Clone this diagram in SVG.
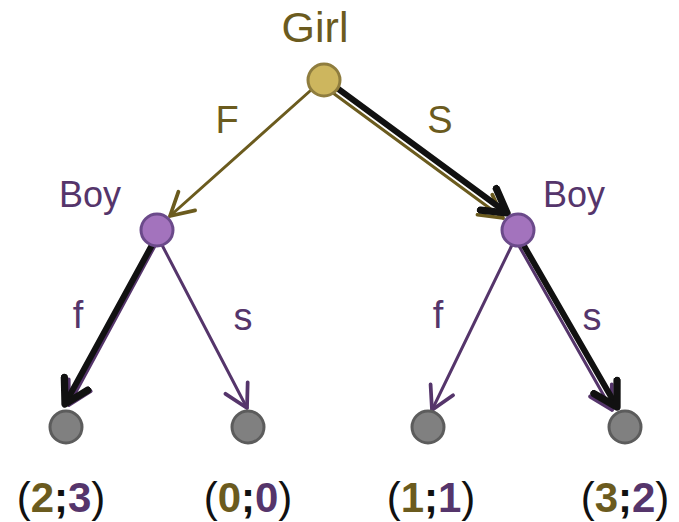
<svg xmlns="http://www.w3.org/2000/svg" width="679" height="522" viewBox="0 0 679 522">
<style>
.t{font-family:"Liberation Sans","DejaVu Sans",sans-serif;}
.lbl{font-size:38px;}
.nm{font-size:36px;}
.ol{fill:#6b5b1e;}
.pu{fill:#55356b;}
.pay{font-size:42px;fill:#111;}
.d{font-weight:bold;}
.eo{stroke:#6b5b1e;stroke-width:3;fill:none;stroke-linecap:round;}
.ep{stroke:#55356b;stroke-width:3;fill:none;stroke-linecap:round;}
.eb{stroke:#111;stroke-width:6;fill:none;stroke-linecap:round;}
.girl{fill:#cdb65e;stroke:#8f7d3e;stroke-width:3;}
.boy{fill:#a373bd;stroke:#6b4a8a;stroke-width:3;}
.leaf{fill:#808080;stroke:#5c5c5c;stroke-width:3;}
</style>
<defs>
<marker id="ao" markerUnits="userSpaceOnUse" markerWidth="30" markerHeight="30" refX="20" refY="12" orient="auto" viewBox="0 0 24 24"><polyline points="2,2 20,12 2,22" fill="none" stroke="#6b5b1e" stroke-width="3" stroke-linecap="round" stroke-linejoin="round"/></marker>
<marker id="ap" markerUnits="userSpaceOnUse" markerWidth="30" markerHeight="30" refX="20" refY="12" orient="auto" viewBox="0 0 24 24"><polyline points="2,2 20,12 2,22" fill="none" stroke="#55356b" stroke-width="3" stroke-linecap="round" stroke-linejoin="round"/></marker>
<marker id="ab" markerUnits="userSpaceOnUse" markerWidth="34" markerHeight="34" refX="22" refY="14" orient="auto" viewBox="0 0 28 28"><polyline points="3,3 22,14 3,25" fill="none" stroke="#111" stroke-width="6" stroke-linecap="round" stroke-linejoin="round"/></marker>
</defs>
<g id="connectors">
<line class="eo" x1="310" y1="91" x2="170" y2="216" marker-end="url(#ao)"/>
<line class="eo" x1="333" y1="93" x2="503" y2="218" marker-end="url(#ao)"/>
<line class="eb" x1="337" y1="88" x2="507" y2="213" marker-end="url(#ab)"/>
<line class="ep" x1="155" y1="246" x2="69" y2="405" marker-end="url(#ap)"/>
<line class="eb" x1="152" y1="245" x2="65" y2="404" marker-end="url(#ab)"/>
<line class="ep" x1="162" y1="245" x2="247" y2="408" marker-end="url(#ap)"/>
<line class="ep" x1="512" y1="245" x2="432" y2="410" marker-end="url(#ap)"/>
<line class="ep" x1="519" y1="246" x2="612" y2="410" marker-end="url(#ap)"/>
<line class="eb" x1="523" y1="244" x2="617" y2="407" marker-end="url(#ab)"/>
<text class="t lbl ol" x="227" y="133" text-anchor="middle">F</text>
<text class="t lbl ol" x="440" y="133" text-anchor="middle">S</text>
<text class="t lbl pu" x="78" y="328" text-anchor="middle">f</text>
<text class="t lbl pu" x="243" y="330" text-anchor="middle">s</text>
<text class="t lbl pu" x="438" y="328" text-anchor="middle">f</text>
<text class="t lbl pu" x="592" y="330" text-anchor="middle">s</text>
</g>
<g id="girl">
<text class="t ol" style="font-size:43px" x="315" y="42" text-anchor="middle">Girl</text>
<circle class="girl" cx="324" cy="80" r="16"/>
</g>
<g id="boy-left">
<text class="t nm pu" x="90" y="207" text-anchor="middle">Boy</text>
<circle class="boy" cx="157" cy="230" r="16"/>
</g>
<g id="boy-right">
<text class="t nm pu" x="574" y="207" text-anchor="middle">Boy</text>
<circle class="boy" cx="518" cy="230" r="16"/>
</g>
<g id="leaf1">
<circle class="leaf" cx="66" cy="427" r="16"/>
<text class="t pay" x="61" y="512" text-anchor="middle">(<tspan class="d ol">2</tspan><tspan class="d">;</tspan><tspan class="d pu">3</tspan>)</text>
</g>
<g id="leaf2">
<circle class="leaf" cx="248" cy="427" r="16"/>
<text class="t pay" x="248" y="512" text-anchor="middle">(<tspan class="d ol">0</tspan><tspan class="d">;</tspan><tspan class="d pu">0</tspan>)</text>
</g>
<g id="leaf3">
<circle class="leaf" cx="428" cy="427" r="16"/>
<text class="t pay" x="431" y="512" text-anchor="middle">(<tspan class="d ol">1</tspan><tspan class="d">;</tspan><tspan class="d pu">1</tspan>)</text>
</g>
<g id="leaf4">
<circle class="leaf" cx="625" cy="427" r="16"/>
<text class="t pay" x="625" y="512" text-anchor="middle">(<tspan class="d ol">3</tspan><tspan class="d">;</tspan><tspan class="d pu">2</tspan>)</text>
</g>
</svg>
